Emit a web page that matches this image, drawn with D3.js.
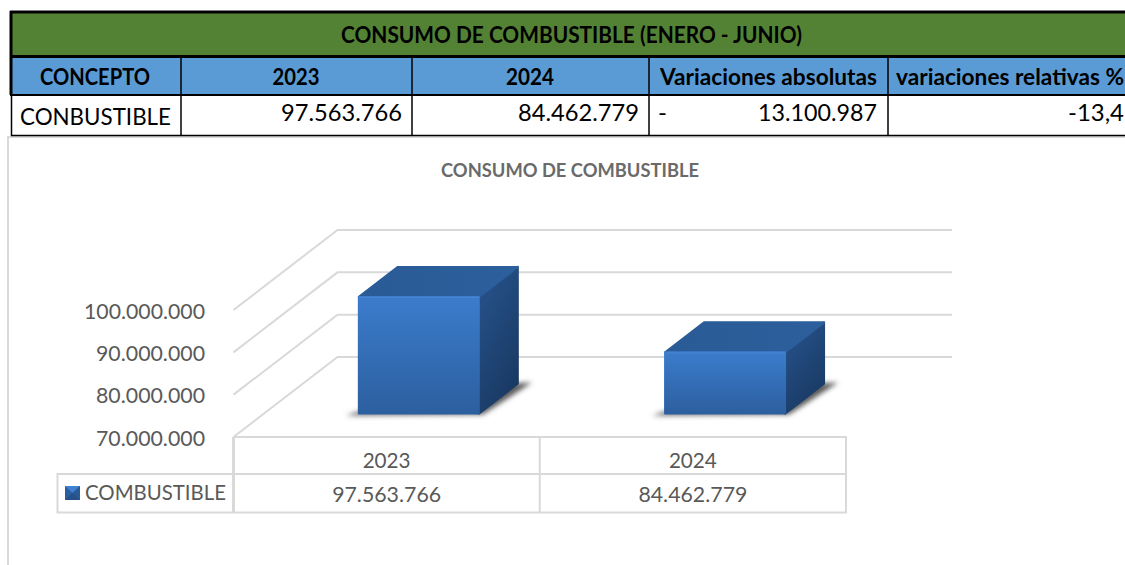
<!DOCTYPE html>
<html lang="es">
	<head>
		<meta charset="utf-8">
		<title>Consumo de combustible</title>
		<script src="https://cdn.jsdelivr.net/npm/d3@7"></script>
		<style>
			html, body { margin: 0; padding: 0; background: #fff; overflow: hidden; }
			svg { display: block; font-family: Lato, "Open Sans", sans-serif; }
		</style>
	</head>
	<body>
		<script>
			//Chart data
			const categories = ["2023", "2024"];
			const seriesName = "COMBUSTIBLE";
			const seriesValues = [97563766, 84462779];
			const axisTicks = [70000000, 80000000, 90000000, 100000000];
			const chartTitle = "CONSUMO DE COMBUSTIBLE";

			//Table text
			const tableTitle = "CONSUMO DE COMBUSTIBLE (ENERO - JUNIO)";
			const tableHeaders = ["CONCEPTO", "2023", "2024", "Variaciones absolutas", "variaciones relativas %"];
			const tableRow = ["CONBUSTIBLE", "97.563.766", "84.462.779", "13.100.987", "-13,4"];

			const w = 1125, h = 565;
			const fmt = d3.formatLocale({ decimal: ",", thousands: ".", grouping: [3], currency: ["", ""] }).format(",d");

			const svg = d3.select("body").append("svg").attr("width", w).attr("height", h);
			const defs = svg.append("defs");

			//Gradients for the bar faces
			function gradient(id, x2, y2, stops) {
				const g = defs.append("linearGradient").attr("id", id)
					.attr("x1", 0).attr("y1", 0).attr("x2", x2).attr("y2", y2);
				stops.forEach((s, i) => g.append("stop").attr("offset", i / (stops.length - 1)).attr("stop-color", s));
			}
			gradient("front", 0, 1, ["#3b7ccc", "#2c5f9f"]);
			gradient("side", 0.5, 1, ["#27558f", "#1a3a64"]);
			gradient("top", 1, 0, ["#2a5b96", "#2c5f9c"]);
			defs.append("filter").attr("id", "soft").attr("x", "-20%").attr("y", "-20%").attr("width", "140%").attr("height", "140%")
				.append("feGaussianBlur").attr("stdDeviation", 2.5);

			//Chart frame
			svg.append("path").attr("d", "M8,565V137H1125").attr("fill", "none").attr("stroke", "#d9d9d9").attr("stroke-width", 2);

			//Table
			const colEdges = [11, 181, 412, 649, 888, 1125];
			const tableG = svg.append("g");
			tableG.append("rect").attr("x", 10).attr("y", 12).attr("width", w - 10).attr("height", 44).attr("fill", "#548235");
			tableG.append("rect").attr("x", 10).attr("y", 56).attr("width", w - 10).attr("height", 39).attr("fill", "#5b9bd5");

			const blackLine = (x1, y1, x2, y2, sw) => tableG.append("line")
				.attr("x1", x1).attr("y1", y1).attr("x2", x2).attr("y2", y2)
				.attr("stroke", "#000").attr("stroke-width", sw);
			blackLine(10, 12, w, 12, 3);
			blackLine(10, 56.5, w, 56.5, 3);
			blackLine(10, 95, w, 95, 2);
			blackLine(11, 135.5, w, 135.5, 1.5);
			blackLine(11, 11, 11, 95, 3);
			blackLine(11.5, 95, 11.5, 136, 1.5);
			colEdges.slice(1, 5).forEach(x => {
				blackLine(x, 57, x, 95, 1.5);
				blackLine(x, 95, x, 136, 1.5);
			});

			function label(g, str, x, y, anchor, size, weight, fill, width) {
				const t = g.append("text").attr("x", x).attr("y", y).attr("text-anchor", anchor)
					.attr("font-size", size).attr("font-weight", weight).attr("fill", fill).text(str);
				if (width) t.attr("textLength", width).attr("lengthAdjust", "spacingAndGlyphs");
				return t;
			}

			label(tableG, tableTitle, 571.5, 43, "middle", 22, 700, "#000", 461);
			const headerX = [95, 296, 530, 768.5, 1010];
			const headerW = [110, 47, 48, 217, 228];
			tableHeaders.forEach((d, i) => label(tableG, d, headerX[i], 85, "middle", 22, 700, "#000", headerW[i]));

			label(tableG, tableRow[0], 20, 125, "start", 24, 400, "#000", 151);
			label(tableG, tableRow[1], 402, 121, "end", 24, 400, "#000", 121);
			label(tableG, tableRow[2], 639, 121, "end", 24, 400, "#000", 121);
			label(tableG, "-", 658, 121, "start", 24, 400, "#000");
			label(tableG, tableRow[3], 877, 121, "end", 24, 400, "#000", 119);
			label(tableG, tableRow[4], 1124, 121, "end", 24, 400, "#000", 56);

			//Chart title
			label(svg, chartTitle, 570, 177, "middle", 18, 700, "#6a6a6a", 258);

			//Scales, the front plane of the 3D box
			const x = d3.scaleBand().domain(categories).range([233.5, 846]);
			const y = d3.scaleLinear().domain([70000000, 100000000]).range([437, 310]);

			//Depth of the 3D box: 0 is the front plane, 1 the back wall
			const depthX = 104, depthY = -80;
			const barFront = 0.3, barBack = 0.675, barWidth = 120;
			const barShiftX = 1, barShiftY = 0.6;
			const project = (px, py, d) => [px + d * depthX, py + d * depthY];
			const poly = pts => pts.map(p => p.join(",")).join(" ");

			//Gridlines: slanted side wall then back wall
			const gridG = svg.append("g").attr("fill", "none").attr("stroke", "#d9d9d9").attr("stroke-width", 2);
			gridG.selectAll("polyline").data(axisTicks).join("polyline")
				.attr("points", d => poly([
					[x.range()[0], y(d)],
					project(x.range()[0], y(d), 1),
					project(x.range()[1] + 2, y(d), 1)
				]));

			//Y axis
			const axis = svg.append("g").attr("transform", "translate(233,1)")
				.call(d3.axisLeft(y).tickValues(axisTicks).tickFormat(fmt).tickSize(0).tickPadding(28));
			axis.select(".domain").remove();
			axis.selectAll("text").attr("font-family", "Lato").attr("font-size", 22).attr("fill", "#595959")
				.attr("textLength", d => d >= 100000000 ? 121 : 109)
				.attr("lengthAdjust", "spacingAndGlyphs");

			//Bars
			const bars = svg.selectAll("g.bar").data(categories.map((c, i) => ({ c, v: seriesValues[i] })))
				.join("g").attr("class", "bar");

			const geom = d => {
				const cx = x(d.c) + x.bandwidth() / 2 + barShiftX;
				const l = cx - barWidth / 2, r = cx + barWidth / 2;
				const base = y(70000000) + barShiftY, top = y(d.v) + barShiftY;
				return {
					fb: project(l, base, barFront), fbr: project(r, base, barFront),
					ft: project(l, top, barFront), ftr: project(r, top, barFront),
					bb: project(r, base, barBack), bt: project(r, top, barBack),
					btl: project(l, top, barBack)
				};
			};

			bars.append("polygon").attr("filter", "url(#soft)").attr("fill", "#5a5a5a")
				.attr("points", d => {
					const g = geom(d);
					return poly([[g.fb[0] - 13, g.fb[1] + 2], [g.fbr[0] + 4, g.fbr[1] + 1], [g.bb[0] + 14, g.bb[1] - 1], [g.bb[0] - 6, g.bb[1]], [g.fbr[0] - 6, g.fbr[1] - 3], [g.fb[0], g.fb[1] - 2]]);
				});
			const face = (sel, fill, pts) => sel.append("polygon")
				.attr("fill", `url(#${fill})`).attr("stroke", `url(#${fill})`)
				.attr("stroke-width", 2).attr("stroke-linejoin", "round")
				.attr("points", d => poly(pts(geom(d))));
			face(bars, "side", g => [g.fbr, g.ftr, g.bt, g.bb]);
			face(bars, "top", g => [g.ft, g.ftr, g.bt, g.btl]);
			face(bars, "front", g => [g.fb, g.ft, g.ftr, g.fbr]);
			bars.append("line").attr("stroke", "#4a86d0").attr("stroke-width", 1)
				.attr("x1", d => geom(d).ft[0]).attr("y1", d => geom(d).ft[1] + 0.5)
				.attr("x2", d => geom(d).ftr[0]).attr("y2", d => geom(d).ftr[1] + 0.5);

			//Data table under the chart
			const rowMid = 474, rowBottom = 512.5, legendLeft = 57.5;
			const dt = svg.append("g").attr("fill", "none").attr("stroke", "#d9d9d9").attr("stroke-width", 2);
			dt.append("path").attr("d", `M${x.range()[0]},437H${x.range()[1]}V${rowBottom}H${legendLeft}V${rowMid}H${x.range()[1]}`);
			categories.forEach(c => dt.append("line")
				.attr("x1", x(c)).attr("x2", x(c)).attr("y1", 437).attr("y2", rowBottom)
				.attr("stroke-width", c === categories[0] ? 3 : 2));

			categories.forEach((c, i) => {
				const cx = x(c) + x.bandwidth() / 2;
				label(svg, c, cx, 468, "middle", 22, 400, "#595959", 48);
				label(svg, fmt(seriesValues[i]), cx, 502, "middle", 22, 400, "#595959", 109);
			});
			label(svg, seriesName, 85, 500, "start", 22, 400, "#595959", 141);

			//Legend key
			const key = svg.append("g").attr("transform", "translate(65,486)");
			key.append("rect").attr("width", 15).attr("height", 14).attr("fill", "#2c5f9f");
			key.append("path").attr("d", "M0,0H15L7.5,7Z").attr("fill", "#3f82d2");
			key.append("path").attr("d", "M15,0V14L7.5,7Z").attr("fill", "#2a5a94");
			key.append("path").attr("d", "M0,14H15L7.5,7Z").attr("fill", "#26508a");
		</script>
	</body>
</html>
